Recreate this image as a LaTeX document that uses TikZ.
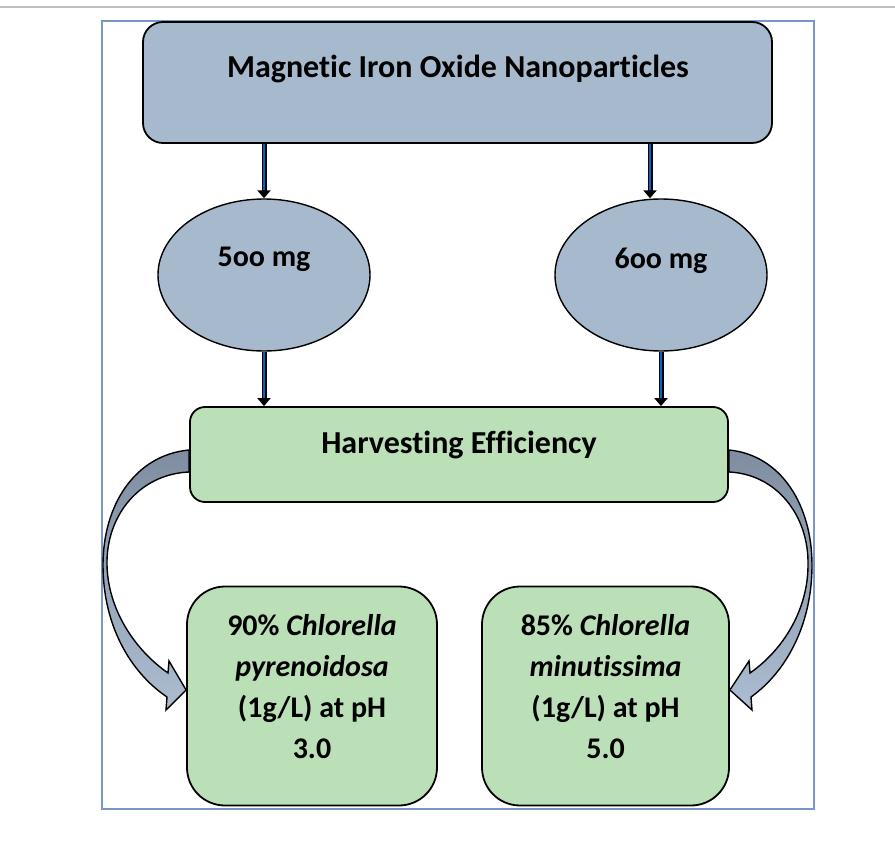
\documentclass[tikz,border=0pt]{standalone}
\usepackage{fontspec}
\setmainfont{Carlito}[Ligatures={NoCommon,NoContextual,NoRequired},Contextuals=NoAlternate]
\usetikzlibrary{arrows.meta,shapes.geometric}

\definecolor{magblue}{RGB}{167,185,204}
\definecolor{harvgreen}{RGB}{187,223,183}
\definecolor{feedblue}{RGB}{0,102,204}
\definecolor{framecol}{RGB}{120,150,200}
\definecolor{bandtop}{RGB}{128,141,160}
\definecolor{bandbot}{RGB}{172,189,209}

\tikzset{
  topbox/.style={draw, line width=1.8pt, fill=magblue, rounded corners=20pt, minimum width=629pt, minimum height=121pt},
  dose/.style={draw, line width=1.4pt, fill=magblue, ellipse, minimum width=212pt, minimum height=152pt, inner sep=0pt},
  harvbox/.style={draw, line width=1.8pt, fill=harvgreen, rounded corners=15pt, minimum width=538pt, minimum height=95pt},
  resbox/.style={draw, line width=1.8pt, fill=harvgreen, rounded corners=38pt, minimum height=219pt},
  lbl/.style={font=\fontsize{32}{38}\selectfont\bfseries, anchor=base, inner sep=0pt},
  doselbl/.style={font=\fontsize{30}{36}\selectfont\bfseries, anchor=base, inner sep=0pt},
  restxt/.style={font=\fontsize{30}{41}\selectfont\bfseries, align=center, inner sep=0pt},
  feed/.style={line width=5pt, black, -{Triangle[length=8pt,width=13pt]},
    postaction={draw, feedblue, line width=2.6pt, -, shorten >=8pt}},
  band/.style={draw, line width=1.4pt, top color=bandtop, bottom color=bandbot}
}

\begin{document}
\begin{tikzpicture}[x=1pt,y=-1pt]
  \useasboundingbox (0,0) rectangle (895,861);
  \draw[gray!50, line width=1.5pt] (0,7) -- (895,7);
  \draw[framecol, line width=1.2pt] (102,21) rectangle (814,809);

  % boxes
  \node[topbox] (mag) at (457.5,82.5) {};
  \node[dose] (d500) at (264,275) {};
  \node[dose] (d600) at (661,275) {};
  \node[harvbox] (harv) at (459,454.5) {};
  \node[resbox, minimum width=250pt] (cp) at (312,696) {};
  \node[resbox, minimum width=247pt] (cm) at (605.5,696) {};

  % texts
  \node[lbl] (magtxt) at (458,78) {Magnetic Iron Oxide Nanoparticles};
  \node[doselbl] (d500txt) at (264,267) {5oo mg};
  \node[doselbl] (d600txt) at (661,269) {6oo mg};
  \node[lbl] (harvtxt) at (459,453) {Harvesting Efficiency};
  \node[restxt] (cptxt) at (312,687) {90\% \textit{Chlorella}\\\textit{pyrenoidosa}\\(1g/L) at pH\\3.0};
  \node[restxt] (cmtxt) at (605.5,687) {85\% \textit{Chlorella}\\\textit{minutissima}\\(1g/L) at pH\\5.0};

  % straight arrows
  \draw[feed] (d500.north |- mag.south) -- (d500.north);
  \draw[feed] ([xshift=-11pt]d600.north |- mag.south) -- ([xshift=-11pt]d600.north);
  \draw[feed] (d500.south) -- (d500.south |- harv.north);
  \draw[feed] (d600.south) -- (d600.south |- harv.north);

  % curved block arrows
  \path[band] ([yshift=4.5pt]harv.west) .. controls (135,455) and (103,505) .. (103,565)
    .. controls (103,625) and (130,672) .. (167,697) -- (166,710) -- ([yshift=6pt]cp.west)
    -- (169,661) -- (168,673) .. controls (135,650) and (108,610) .. (107,565)
    .. controls (106,515) and (140,474) .. ([yshift=-17.5pt]harv.west) -- cycle;
  \path[band] ([yshift=4.5pt]harv.east) .. controls (781,455) and (812,505) .. (812,565)
    .. controls (812,625) and (786,672) .. (751,697) -- (752,710) -- ([yshift=6pt]cm.east)
    -- (749,661) -- (750,673) .. controls (783,650) and (808,610) .. (808,565)
    .. controls (809,515) and (776,474) .. ([yshift=-17.5pt]harv.east) -- cycle;
\end{tikzpicture}
\end{document}
